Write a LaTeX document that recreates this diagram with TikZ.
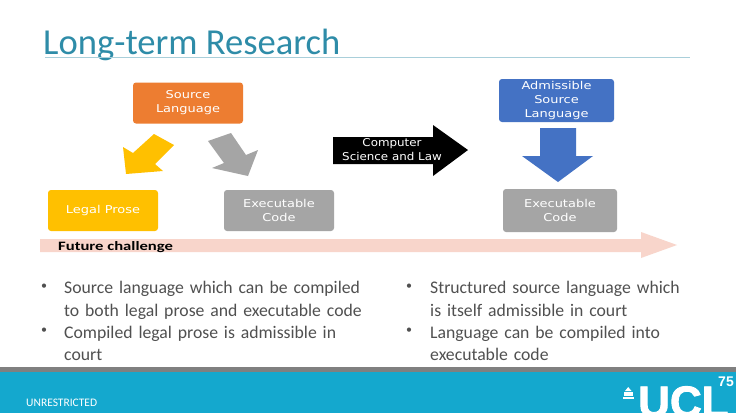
\documentclass[tikz,border=0pt]{standalone}
\usepackage{fontspec}
\setmainfont{Carlito}
\newfontfamily\boxfont[FakeStretch=1.2]{DejaVu Sans}
\newfontfamily\cslfont[FakeStretch=1.1]{DejaVu Sans}
\newfontfamily\futurefont[FakeStretch=1.3]{Carlito}
\newfontfamily\logofont[FakeBold=2]{Liberation Sans}
\newfontfamily\numfont{Liberation Sans}
\definecolor{titleC}{HTML}{2E8CA8}
\definecolor{ruleC}{HTML}{A9CFDA}
\definecolor{orangeC}{HTML}{ED7D31}
\definecolor{yellowC}{HTML}{FFC000}
\definecolor{grayC}{HTML}{A5A5A5}
\definecolor{blueC}{HTML}{4472C4}
\definecolor{pinkC}{HTML}{F8D5CB}
\definecolor{tealC}{HTML}{14A8CE}
\definecolor{bandC}{HTML}{808080}
\definecolor{bodyC}{HTML}{505050}
\tikzset{
  x=1pt,y=-1pt,
  blockbox/.style={rounded corners=3pt,minimum height=41pt,inner sep=0pt,align=center,
     text=white,font=\boxfont\fontsize{10.8}{14}\selectfont,anchor=center},
  bodytext/.style={anchor=north west,inner sep=0pt,align=left,text=bodyC,text width=310pt,
     font=\fontsize{17.7}{22.1}\selectfont},
  bulletmark/.style={inner sep=0pt,text=bodyC,font=\fontsize{12}{14}\selectfont},
}
\begin{document}
\begin{tikzpicture}
\useasboundingbox (0,0) rectangle (736,413);
\fill[white] (0,0) rectangle (736,413);
% title
\node[anchor=base west,inner sep=0pt,text=titleC,font=\fontsize{36.6}{40}\selectfont] (title) at (43,54) {Long-term Research};
\draw[ruleC,line width=0.7pt] (45,57.5) -- (690,57.5);
% pink arrow
\fill[pinkC] (40,239) -- (641,239) -- (641,232) -- (677,245) -- (641,258) -- (641,252) -- (40,252) -- cycle;
\node[anchor=base west,inner sep=0pt,font=\futurefont\bfseries\fontsize{12.8}{14}\selectfont] (future) at (58,250) {Future challenge};
% boxes
\node[blockbox,fill=orangeC,minimum width=110pt] (src) at (188,103) {Source\\Language};
\node[blockbox,fill=yellowC,minimum width=110pt] (legal) at (103,210.5) {Legal Prose};
\node[blockbox,fill=grayC,minimum width=110pt] (exec) at (279,210.5) {Executable\\Code};
\node[blockbox,fill=blueC,minimum width=115pt,minimum height=43pt] (adm) at (556.5,100.5) {Admissible\\Source\\Language};
\node[blockbox,fill=grayC,minimum width=114pt,minimum height=43pt] (exectwo) at (560,210.5) {Executable\\Code};
% block arrows
\fill[yellowC] (126,174) -- (123,147) -- (133,153) -- (154,134) -- (174,145) -- (155,164) -- (163,171) -- cycle;
\fill[grayC] (248,176) -- (258,150) -- (246,155) -- (231,133) -- (208,141) -- (224,163) -- (212,168) -- cycle;
\fill[black] (333,137) -- (433,137) -- (433,125) -- (468,150) -- (433,176) -- (433,164) -- (333,164) -- cycle;
\node[inner sep=0pt,align=center,text=white,font=\cslfont\fontsize{10.8}{14}\selectfont] (csl) at (392,150) {Computer\\Science and Law};
\fill[blueC] (540,128) -- (576,128) -- (576,156) -- (593,156) -- (558,182) -- (522,156) -- (540,156) -- cycle;
% bullets
\node[bulletmark] (b1) at (44,287) {•};
\node[bulletmark] (b2) at (44,331) {•};
\node[bodytext] (t1) at (64,281.5) {Source language which can be compiled\\to both legal prose and executable code\\Compiled legal prose is admissible in\\court};
\node[bulletmark] (b3) at (409,287) {•};
\node[bulletmark] (b4) at (409,331) {•};
\node[bodytext] (t2) at (430,281.5) {Structured source language which\\is itself admissible in court\\Language can be compiled into\\executable code};
% footer
\fill[tealC] (0,372) rectangle (736,413);
\fill[bandC] (0,367) rectangle (736,372);
\node[anchor=base west,inner sep=0pt,text=white,font=\fontsize{11.5}{13}\selectfont] (unres) at (26,406.5) {UNRESTRICTED};
\begin{scope}
\clip (600,372) rectangle (736,413);
\node[anchor=base west,inner sep=0pt,text=white,font=\logofont\bfseries\fontsize{44}{44}\selectfont] (ucl) at (638,417) {UCL};
\end{scope}
\node[anchor=base east,inner sep=0pt,text=white,font=\numfont\bfseries\fontsize{14}{14}\selectfont] (num) at (734,386) {75};
% temple icon
\fill[white] (623,397) rectangle (633.5,399);
\fill[white] (624,391.5) rectangle (632.5,396.3);
\fill[white] (625,391) -- (628.2,387) -- (631.5,391) -- cycle;
\end{tikzpicture}
\end{document}
